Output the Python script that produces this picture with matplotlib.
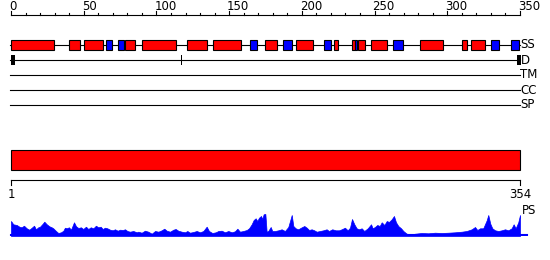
import matplotlib
matplotlib.use("Agg")
import matplotlib.pyplot as plt
from matplotlib.patches import Rectangle

seq_len = 354

# secondary structure elements (start, end residue) and type H=helix, E=strand
ss_start = [1.2, 41.4, 51.8, 67.1, 75.4, 80.3, 92.1, 123.3, 141.3, 167.0,
            177.4, 189.8, 198.4, 218.3, 225.2, 237.3, 239.8, 241.6, 250.9,
            266.1, 284.9, 314.0, 320.2, 334.1, 347.9]
ss_end = [31.0, 49.1, 65.0, 71.3, 79.2, 87.2, 115.2, 137.1, 160.7, 171.8,
          185.3, 196.1, 210.2, 222.9, 228.0, 239.8, 241.2, 246.5, 262.0,
          273.1, 300.6, 317.0, 329.9, 339.6, 353.1]
ss_type = ['H', 'H', 'H', 'E', 'E', 'H', 'H', 'H', 'H', 'E',
           'H', 'E', 'H', 'E', 'H', 'H', 'E', 'H', 'H',
           'E', 'H', 'H', 'H', 'E', 'E']

# disordered regions
dis_start = [1.0, 118.6, 352.1]
dis_end = [3.6, 119.5, 354.4]

track_labels = ['SS', 'D', 'TM', 'CC', 'SP']

# profile (PS)
ps_res = [1.0, 2.6, 5.0, 6.8, 8.4, 10.0, 11.9, 13.7, 15.4, 17.0, 18.3, 19.9,
          21.1, 23.0, 24.1, 25.8, 27.6, 29.2, 30.3, 32.2, 33.8, 35.7, 37.3,
          38.4, 39.6, 41.2, 42.6, 44.7, 46.1, 47.7, 49.5, 51.1, 53.0, 54.6,
          56.3, 58.1, 59.9, 61.5, 63.2, 64.6, 66.2, 67.8, 69.7, 71.5, 73.1,
          75.0, 76.6, 78.5, 80.1, 81.7, 83.5, 85.8, 88.2, 89.3, 91.6, 93.9,
          96.2, 98.6, 100.9, 103.2, 105.5, 107.3, 109.0, 111.3, 113.6, 115.2,
          117.0, 119.4, 121.7, 123.3, 125.1, 127.4, 129.8, 132.1, 134.4,
          136.7, 138.3, 140.6, 143.0, 144.8, 147.1, 149.4, 151.7, 154.1,
          156.3, 158.0, 159.8, 162.1, 164.5, 166.1, 167.9, 169.3, 170.7,
          171.8, 173.0, 174.4, 175.3, 176.2, 177.4, 178.3, 179.4, 181.1,
          182.2, 184.1, 186.4, 188.7, 191.0, 193.3, 195.7, 196.8, 198.4,
          200.2, 202.1, 204.4, 206.1, 207.7, 209.5, 211.3, 213.0, 215.3,
          217.6, 219.9, 221.5, 223.8, 226.2, 228.5, 230.3, 232.6, 234.5,
          236.1, 237.5, 239.1, 240.7, 242.4, 244.2, 246.0, 248.4, 250.7,
          251.8, 253.4, 255.0, 256.7, 258.1, 259.9, 261.6, 263.1, 265.0,
          266.6, 268.0, 269.6, 271.5, 273.1, 275.4, 278.9, 281.2, 285.8,
          290.4, 295.0, 299.7, 304.3, 308.9, 313.6, 317.0, 320.5, 322.8,
          324.4, 326.3, 328.5, 330.9, 332.0, 333.4, 334.8, 336.7, 339.0,
          341.3, 343.6, 345.9, 348.2, 349.6, 351.0, 352.8, 354.0]
ps_val = [15, 11.7, 11, 9.3, 8.7, 10.3, 7.7, 6.3, 8.3, 10.3, 6.7, 8.7,
          9.3, 12.3, 14.3, 11.7, 9.7, 8.7, 7.7, 5, 3, 3.7, 5.3,
          8.3, 7.7, 8.7, 6.3, 13.7, 9.7, 8, 8.7, 7, 9.3, 7,
          8.7, 7.7, 10.3, 8.7, 9.3, 7, 8.3, 7.7, 6.3, 5.7, 6.7,
          5.3, 6.3, 6, 6.7, 5, 4.3, 5, 3.7, 4.3, 3.3, 5.3,
          4.3, 2.3, 5, 4.3, 5.7, 7.3, 5.3, 4.3, 6.3, 7,
          5.3, 4.3, 3.7, 5, 3.3, 4, 5, 3.7, 5,
          9.3, 5, 3, 3.7, 5, 5.3, 3.7, 5, 3.7,
          4.7, 7.3, 4.3, 5, 6, 7.7, 11.7, 16, 17.7,
          15, 18.3, 20, 17, 21.7, 22, 4.3, 5, 9,
          5, 5, 5.7, 6.7, 5, 9, 21, 10, 7.7,
          6.7, 8.3, 10, 8.3, 6, 6.7, 5.7, 4.3, 5,
          5.7, 6.7, 5, 6.7, 5.7, 5.7, 6.7, 8.3, 5.7,
          8.3, 17, 11.7, 7.7, 6.7, 7.7, 5, 7.7, 11.7,
          7.7, 9, 11, 10, 13.7, 11, 15, 14, 16.7,
          20, 13.7, 10, 7.7, 5, 2.3, 1.7, 2.3, 3,
          2.7, 3.3, 3, 3.3, 3.7, 4.3, 5, 6.7, 9,
          6, 7.7, 7.7, 15.7, 21, 12.3, 7.7, 5.7, 5,
          5.7, 6.7, 5.7, 7.7, 11.7, 7.7, 13.7, 21]

ruler_ticks = list(range(0, 351, 10))
ruler_labels = list(range(0, 351, 50))

W, H = 550, 260
px_per_res = 509 / 353.0
FONT = 8.5

fig = plt.figure(figsize=(W / 100, H / 100), dpi=100)
plt.rcParams['font.family'] = 'DejaVu Sans'

# main axes: x in residues, y in pixel rows
ax = fig.add_axes([0, 0, 1, 1])
res_lo = 1 - 11 / px_per_res
res_hi = 1 + (W - 11) / px_per_res
ax.set_xlim(res_lo, res_hi)
ax.set_ylim(H, 0)
ax.axis('off')

lw = 0.8
row_y = [45, 60, 75, 90, 105]

# track lines
for y in row_y:
    ax.plot([0.5, seq_len], [y, y], color='black', lw=lw, zorder=1)

# SS boxes
for s, e, t in zip(ss_start, ss_end, ss_type):
    col = '#ff0000' if t == 'H' else '#0000ff'
    ax.add_patch(Rectangle((s, 40), e - s, 10, facecolor=col,
                           edgecolor='black', lw=lw, zorder=2))

# disorder
for s, e in zip(dis_start, dis_end):
    ax.add_patch(Rectangle((s, 55), e - s, 10, facecolor='black',
                           edgecolor='none', zorder=2))

for lab, y in zip(track_labels, row_y):
    ax.text(seq_len + 0.3, y, lab, fontsize=FONT, va='center', ha='left')

# full-length domain bar
ax.add_patch(Rectangle((1, 150), seq_len - 1, 20, facecolor='#ff0000',
                       edgecolor='black', lw=lw, zorder=2))

# bottom ruler
ax.plot([1, seq_len], [180, 180], color='black', lw=lw)
ax.plot([1, 1], [180, 184.5], color='black', lw=lw)
ax.plot([seq_len, seq_len], [180, 184.5], color='black', lw=lw)
ax.text(1, 195, '1', fontsize=FONT, ha='center', va='center')
ax.text(seq_len, 195, str(seq_len), fontsize=FONT, ha='center', va='center')
ax.text(seq_len + 1.0, 210, 'PS', fontsize=FONT, ha='left', va='center')

# top ruler (0..350 over the same width)
axr = fig.add_axes([0, 0, 1, 1])
u = 350 / 509.0
axr.set_xlim(-11 * u, 350 + (W - 520) * u)
axr.set_ylim(H, 0)
axr.axis('off')
axr.plot([0, 350], [15, 15], color='black', lw=lw)
for t in ruler_ticks:
    top = 11 if t in ruler_labels else 12.8
    axr.plot([t, t], [top, 15], color='black', lw=lw)
for t in ruler_labels:
    axr.text(t - 2 * u, 6, str(t), fontsize=FONT, ha='left', va='center')

# profile
base_px = 236
axp = fig.add_axes([0, (H - base_px) / H, 1, 25 / H])
axp.set_xlim(res_lo, res_hi)
axp.set_ylim(0, 25)
axp.axis('off')
axp.fill_between(ps_res, ps_val, 0, color='#0000ff', lw=0.5,
                 edgecolor='#0000ff')
axp.plot([1, seq_len + 5], [0.8, 0.8], color='#0000ff', lw=1.5)

fig.savefig('out.png', dpi=100)
